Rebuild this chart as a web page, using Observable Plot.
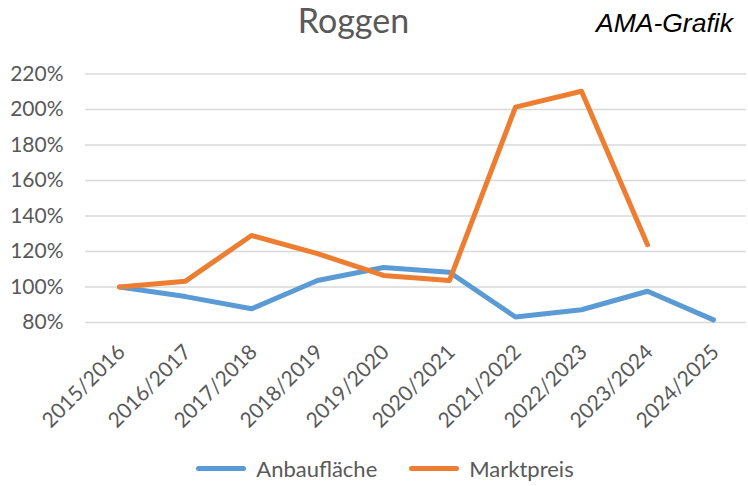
<!DOCTYPE html>
<html><head><meta charset="utf-8">
<script src="https://cdn.jsdelivr.net/npm/d3@7"></script>
<script src="https://cdn.jsdelivr.net/npm/@observablehq/plot@0.6"></script>
<style>
body{margin:0;background:#fff;font-family:Lato,"Open Sans",sans-serif;}
#wrap{position:relative;width:748px;height:486px;overflow:hidden;}
#title{position:absolute;left:0;width:707px;top:3px;line-height:1;text-align:center;font-size:34px;color:#595959;}
#brand{position:absolute;left:596px;top:8px;font-family:"Liberation Sans",Arial,sans-serif;font-style:italic;font-size:26.5px;color:#000;}
#chart{position:absolute;left:0;top:50px;}
#legend{position:absolute;top:455px;left:0;width:770px;display:flex;justify-content:center;gap:32px;font-size:22px;color:#595959;}
#legend span{display:flex;align-items:center;gap:10px;}
#legend i{display:inline-block;width:50px;height:5px;border-radius:3px;}
</style></head>
<body>
<div id="wrap">
<div id="title">Roggen</div>
<div id="brand">AMA-Grafik</div>
<div id="chart"></div>
<div id="legend"></div>
</div>
<script>
const seasons = ["2015/2016","2016/2017","2017/2018","2018/2019","2019/2020","2020/2021","2021/2022","2022/2023","2023/2024","2024/2025"];
const anbauflaeche = [100, 94.6, 87.7, 103.7, 111.0, 108.3, 83.1, 87.2, 97.6, 81.5];
const marktpreis = [100, 103.3, 129.0, 118.8, 106.5, 103.7, 201.3, 210.3, 123.8, null];
const yTicks = [80,100,120,140,160,180,200,220];
const seriesNames = ["Anbaufläche","Marktpreis"];
const seriesColors = ["#5B9BD5","#ED7D31"];

const rows = [];
seasons.forEach((s,i)=>{
  rows.push({season:s, series:seriesNames[0], value:anbauflaeche[i]});
  rows.push({season:s, series:seriesNames[1], value:marktpreis[i]});
});

const chart = Plot.plot({
  width:748, height:390,
  marginLeft:85, marginRight:2, marginTop:23.5, marginBottom:118,
  style:{fontFamily:"Lato, 'Open Sans', sans-serif", fontSize:"20px", color:"#595959", background:"transparent"},
  x:{type:"point", domain:seasons, padding:0.5, label:null},
  y:{domain:[80,220], label:null},
  color:{domain:seriesNames, range:seriesColors},
  marks:[
    Plot.gridY(yTicks,{stroke:"#d9d9d9", strokeOpacity:1, strokeWidth:1.5}),
    Plot.axisY(yTicks,{tickSize:0, tickPadding:22, tickFormat:d=>d+"%", fill:"#595959", fontSize:21}),
    Plot.axisX(seasons,{tickSize:0, tickRotate:-45, tickPadding:26, fill:"#595959", fontSize:21, textAnchor:"end", dx:2}),
    Plot.line(rows,{x:"season", y:"value", z:"series", stroke:"series", strokeWidth:5, strokeLinecap:"round", strokeLinejoin:"round"})
  ]
});
document.getElementById("chart").appendChild(chart);

const leg = document.getElementById("legend");
seriesNames.forEach((n,i)=>{
  const sp = document.createElement("span");
  sp.innerHTML = `<i style="background:${seriesColors[i]}"></i>${n}`;
  leg.appendChild(sp);
});
</script>
</body></html>
